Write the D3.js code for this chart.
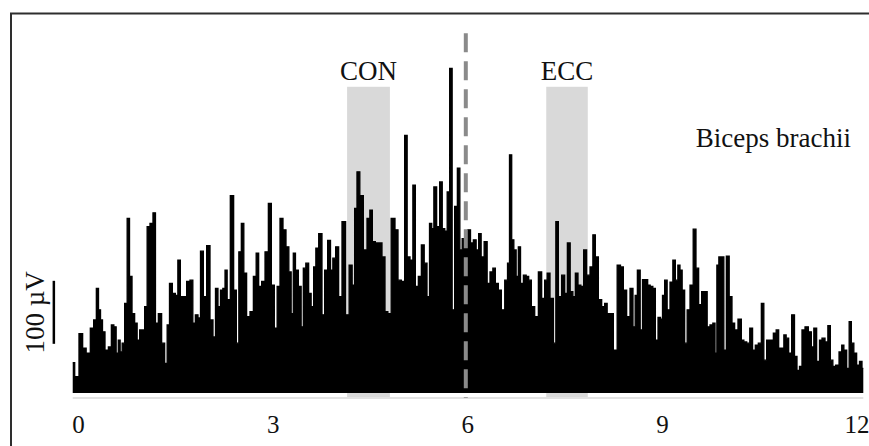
<!DOCTYPE html>
<html><head><meta charset="utf-8">
<script src="https://cdn.jsdelivr.net/npm/d3@7"></script>
<style>html,body{margin:0;padding:0;background:#fff;} svg{display:block;}</style>
</head><body>
<script>
// EMG trace: time (s) and amplitude (µV)
const emgTime = [
-0.089,-0.028,0.043,0.085,0.151,0.213,0.254,0.296,0.321,0.358,
0.382,0.435,0.486,0.527,0.563,0.598,0.629,0.655,0.691,0.732,
0.768,0.805,0.845,0.886,0.922,0.963,0.999,1.040,1.076,1.128,
1.168,1.205,1.256,1.307,1.349,1.384,1.421,1.472,1.514,1.549,
1.591,1.642,1.692,1.745,1.780,1.822,1.862,1.899,1.950,2.001,
2.053,2.093,2.130,2.170,2.207,2.243,2.274,2.309,2.371,2.412,
2.454,2.489,2.531,2.566,2.617,2.670,2.721,2.756,2.798,2.849,
2.901,2.952,2.993,3.044,3.080,3.132,3.172,3.225,3.260,3.296,
3.326,3.363,3.414,3.450,3.481,3.527,3.568,3.604,3.645,3.672,
3.733,3.773,3.815,3.866,3.903,3.938,3.989,4.031,4.092,4.143,
4.200,4.236,4.277,4.308,4.365,4.416,4.478,4.504,4.555,4.597,
4.658,4.698,4.751,4.786,4.852,4.905,4.945,5.007,5.048,5.084,
5.136,5.172,5.213,5.264,5.306,5.352,5.392,5.429,5.460,5.495,
5.546,5.588,5.626,5.665,5.701,5.742,5.777,5.819,5.861,5.896,
5.932,5.973,6.024,6.061,6.112,6.147,6.189,6.224,6.281,6.317,
6.369,6.405,6.446,6.497,6.539,6.601,6.625,6.662,6.693,6.728,
6.764,6.795,6.832,6.883,6.918,6.960,7.001,7.063,7.114,7.165,
7.206,7.242,7.294,7.345,7.371,7.422,7.473,7.515,7.556,7.602,
7.638,7.679,7.720,7.766,7.807,7.858,7.911,7.946,7.988,8.039,
8.090,8.131,8.167,8.219,8.270,8.336,8.373,8.424,8.475,8.527,
8.567,8.594,8.635,8.681,8.706,8.758,8.789,8.835,8.871,8.913,
8.953,8.990,9.014,9.056,9.091,9.144,9.179,9.221,9.256,9.287,
9.323,9.364,9.400,9.452,9.498,9.538,9.580,9.631,9.673,9.708,
9.760,9.796,9.827,9.853,9.888,9.930,9.965,10.007,10.053,10.093,
10.135,10.196,10.238,10.274,10.325,10.369,10.412,10.453,10.505,10.546,
10.582,10.633,10.685,10.736,10.772,10.813,10.855,10.890,10.926,10.967,
11.018,11.055,11.095,11.132,11.172,11.225,11.276,11.317,11.352,11.404,
11.440,11.481,11.533,11.569,11.610,11.646,11.697,11.749,11.780,11.816,
11.866,11.892,11.934,11.969,12.020,12.057,12.097];
const emgAmp = [
56,34,102,79,71,111,124,174,140,124,
105,76,81,116,113,71,92,73,87,150,
285,193,134,119,92,108,108,145,272,277,
294,119,134,87,55,116,182,166,163,219,
161,161,185,187,119,132,127,233,161,242,
124,97,174,145,171,174,203,156,321,171,
87,232,277,198,129,137,193,230,177,185,
232,309,179,111,177,285,267,240,200,134,
230,203,177,113,206,214,166,145,208,238,
261,132,203,250,203,222,240,161,280,132,
211,179,301,359,321,235,285,298,248,246,
246,224,137,134,285,267,187,185,417,224,
219,338,177,193,243,214,161,277,269,335,
272,343,269,265,327,523,140,304,365,235,
253,256,267,246,251,235,261,224,248,182,
200,206,182,171,140,187,214,386,251,235,
193,240,182,195,193,187,145,129,200,158,
187,198,158,87,280,161,195,166,246,169,
161,198,179,177,235,195,208,259,224,156,
145,150,134,134,76,211,208,171,129,174,
113,163,203,108,188,188,179,177,174,92,
128,125,163,187,140,184,219,187,211,203,
171,87,140,179,268,206,148,169,169,113,
116,119,71,211,224,224,76,225,161,119,
108,125,92,89,87,111,76,84,87,150,
60,92,92,103,108,79,79,100,95,71,
132,66,44,50,108,113,105,81,111,58,
92,95,89,115,60,50,52,73,84,76,
47,121,87,71,52,58,47];
const restingUV = 8;

const tickValues = [0, 3, 6, 9, 12];
const phaseNames = ["CON", "ECC"];
const phaseStart = [4.14, 7.21];
const phaseEnd = [4.80, 7.85];
const phaseTopUV = 494;
const transitionTime = 5.97;
const transitionTopUV = 579;
const muscleName = "Biceps brachii";
const scaleBarUV = [86, 186];
const scaleBarTime = -0.38;
const scaleBarLabel = "100 µV";

const W = 869, H = 446;
const svg = d3.select("body").append("svg").attr("width", W).attr("height", H);
const serif = "'Liberation Serif','Times New Roman',serif";

const x = d3.scaleLinear().domain([0, 12]).range([78.5, 857]);
const y = d3.scaleLinear().domain([0, 600]).range([398, 20]);

// frame
svg.append("rect").attr("x", 11).attr("y", 13.5).attr("width", 900).attr("height", 500)
  .attr("fill", "none").attr("stroke", "#2e2e2e").attr("stroke-width", 2);

// phase windows
const phases = phaseNames.map((n, i) => ({name: n, s: phaseStart[i], e: phaseEnd[i]}));
svg.selectAll("rect.phase").data(phases).join("rect").attr("class", "phase")
  .attr("x", d => x(d.s)).attr("width", d => x(d.e) - x(d.s))
  .attr("y", y(phaseTopUV)).attr("height", y(0) - y(phaseTopUV))
  .attr("fill", "#d9d9d9");
svg.selectAll("text.phase").data(phases).join("text").attr("class", "phase")
  .attr("x", d => x((d.s + d.e) / 2)).attr("y", y(phaseTopUV) - 7)
  .attr("text-anchor", "middle").attr("font-family", serif).attr("font-size", 27)
  .attr("fill", "#111").text(d => d.name);

// axis baseline
svg.append("line").attr("x1", x(emgTime[0])).attr("x2", x(emgTime[emgTime.length - 1]))
  .attr("y1", y(0)).attr("y2", y(0)).attr("stroke", "#e2e2e2").attr("stroke-width", 2);

// signal
const n = Math.min(emgTime.length, emgAmp.length);
const pts = d3.range(n).map(i => [emgTime[i], emgAmp[i]]);
svg.append("path").datum(pts)
  .attr("d", d3.area().curve(d3.curveStep).x(d => x(d[0])).y0(y(restingUV)).y1(d => y(d[1])))
  .attr("fill", "#000");
svg.append("path").datum(pts)
  .attr("d", d3.line().curve(d3.curveStep).x(d => x(d[0])).y(d => y(d[1])))
  .attr("fill", "none").attr("stroke", "#000").attr("stroke-width", 1.3);

// transition dashed line
svg.append("line").attr("x1", x(transitionTime)).attr("x2", x(transitionTime))
  .attr("y1", y(transitionTopUV)).attr("y2", y(0))
  .attr("stroke", "#8a8a8a").attr("stroke-width", 4).attr("stroke-dasharray", "19,9");

// tick labels
svg.selectAll("text.tick").data(tickValues).join("text").attr("class", "tick")
  .attr("x", d => x(d)).attr("y", 433).attr("text-anchor", "middle")
  .attr("font-family", serif).attr("font-size", 25).attr("fill", "#111").text(d => d);

// muscle label
svg.append("text").attr("x", 851).attr("y", 147).attr("text-anchor", "end")
  .attr("font-family", serif).attr("font-size", 27).attr("fill", "#111").text(muscleName);

// scale bar
svg.append("line").attr("x1", x(scaleBarTime)).attr("x2", x(scaleBarTime))
  .attr("y1", y(scaleBarUV[0])).attr("y2", y(scaleBarUV[1]))
  .attr("stroke", "#000").attr("stroke-width", 2.5);
const midY = y((scaleBarUV[0] + scaleBarUV[1]) / 2);
svg.append("text").attr("transform", `translate(44,${midY}) rotate(-90)`)
  .attr("text-anchor", "middle").attr("font-family", serif).attr("font-size", 27)
  .attr("fill", "#111").text(scaleBarLabel);
</script>
</body></html>
